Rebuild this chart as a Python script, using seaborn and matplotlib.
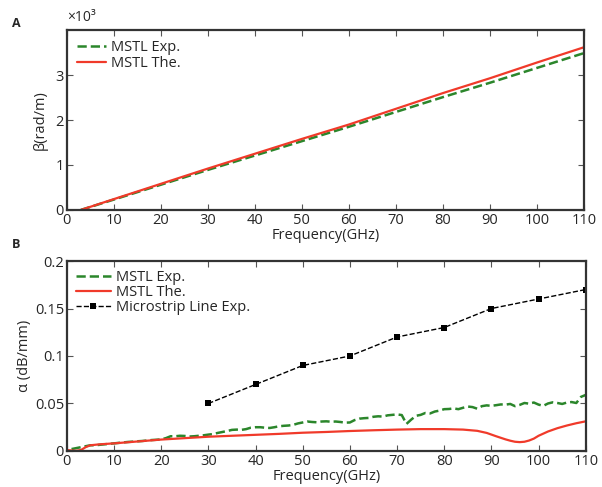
import matplotlib
matplotlib.use("Agg")
import matplotlib.pyplot as plt
import seaborn as sns
import numpy as np

# Panel A : constante de phase (x10^3 rad/m)
freq_beta = [3, 10, 20, 30, 40, 50, 60, 70, 80, 90, 100, 110]
beta_the = [0.0, 0.24, 0.58, 0.92, 1.25, 1.58, 1.90, 2.25, 2.60, 2.93, 3.28, 3.62]
beta_exp = [0.0, 0.23, 0.56, 0.89, 1.21, 1.53, 1.85, 2.18, 2.51, 2.83, 3.16, 3.49]

# Panel B : attenuation (dB/mm)
freq_exp = list(range(1, 111))
alpha_exp = [
    0.0020, 0.0030, 0.0040, 0.0050, 0.0060, 0.0060, 0.0065, 0.0070, 0.0075, 0.0080,
    0.0085, 0.0090, 0.0095, 0.0098, 0.0102, 0.0105, 0.0110, 0.0115, 0.0118, 0.0122,
    0.0135, 0.0155, 0.0155, 0.0160, 0.0158, 0.0152, 0.0155, 0.0160, 0.0165, 0.0172,
    0.0178, 0.0190, 0.0200, 0.0210, 0.0222, 0.0225, 0.0222, 0.0230, 0.0245, 0.0250,
    0.0250, 0.0245, 0.0242, 0.0250, 0.0260, 0.0265, 0.0268, 0.0275, 0.0290, 0.0300,
    0.0310, 0.0305, 0.0302, 0.0310, 0.0312, 0.0308, 0.0310, 0.0305, 0.0298, 0.0300,
    0.0325, 0.0340, 0.0345, 0.0348, 0.0360, 0.0365, 0.0362, 0.0375, 0.0380, 0.0385,
    0.0378, 0.0285, 0.0330, 0.0370, 0.0380, 0.0400, 0.0395, 0.0415, 0.0425, 0.0440,
    0.0442, 0.0448, 0.0440, 0.0455, 0.0468, 0.0462, 0.0445, 0.0472, 0.0480, 0.0475,
    0.0482, 0.0490, 0.0488, 0.0495, 0.0472, 0.0485, 0.0505, 0.0498, 0.0510, 0.0488,
    0.0475, 0.0500, 0.0512, 0.0505, 0.0495, 0.0510, 0.0515, 0.0505, 0.0570, 0.0590,
]
freq_the = [0, 1, 2, 3, 4, 5, 7, 10, 15, 20, 25, 30, 35, 40, 45, 50, 55, 60, 65, 70,
            75, 80, 84, 87, 89, 91, 93, 94, 95, 96, 97, 98, 99, 100, 102, 104, 106, 108, 110]
alpha_the = [0.0010, 0.0005, 0.0002, 0.0010, 0.0040, 0.0060, 0.0070, 0.0080, 0.0100, 0.0120,
             0.0135, 0.0150, 0.0160, 0.0170, 0.0180, 0.0192, 0.0200, 0.0210, 0.0218, 0.0225,
             0.0230, 0.0230, 0.0225, 0.0212, 0.0190, 0.0155, 0.0122, 0.0108, 0.0097, 0.0093,
             0.0097, 0.0110, 0.0130, 0.0160, 0.0205, 0.0240, 0.0268, 0.0292, 0.0312]
freq_ms = [30, 40, 50, 60, 70, 80, 90, 100, 110]
alpha_ms = [0.05, 0.07, 0.09, 0.10, 0.12, 0.13, 0.15, 0.16, 0.17]

x_ticks = list(range(0, 111, 10))

sns.set_theme(style="white")
plt.rcParams['font.family'] = ['Open Sans', 'DejaVu Sans']
plt.rcParams['font.size'] = 10

VERT = "#2b862b"
ROUGE = "#f03a2a"

fig = plt.figure(figsize=(6.02, 4.87), dpi=100)
ax_a = fig.add_axes([0.111, 0.569, 0.859, 0.369])
ax_b = fig.add_axes([0.111, 0.074, 0.862, 0.390])


def style_axes(ax):
    for sp in ax.spines.values():
        sp.set_color("#333333")
        sp.set_linewidth(1.6)
    ax.tick_params(direction="in", length=4, width=0.8, color="#555555",
                   top=True, right=True, left=True, bottom=True,
                   labelsize=10.5, pad=2)
    ax.set_xlim(0, 110)
    ax.set_xticks(x_ticks)
    ax.set_xlabel("Frequency(GHz)", fontsize=10.5, labelpad=0.5)


# --- A ---
sns.lineplot(x=freq_beta, y=beta_exp, ax=ax_a, color=VERT, linestyle="--",
             linewidth=1.8, label="MSTL Exp.")
sns.lineplot(x=freq_beta, y=beta_the, ax=ax_a, color=ROUGE, linewidth=1.6,
             label="MSTL The.")
style_axes(ax_a)
ax_a.set_ylim(0, 4)
ax_a.set_yticks([0, 1, 2, 3])
ax_a.set_ylabel("β(rad/m)", fontsize=10.5, labelpad=6)
ax_a.text(0.0, 1.03, "×10³", transform=ax_a.transAxes, fontsize=10, va="bottom")
ax_a.legend(loc="upper left", frameon=False, fontsize=10.5, handlelength=2.0,
            handletextpad=0.3, labelspacing=0.05, borderaxespad=0.3)

# --- B ---
sns.lineplot(x=freq_exp, y=alpha_exp, ax=ax_b, color=VERT, linestyle="--",
             linewidth=1.8, label="MSTL Exp.")
sns.lineplot(x=freq_the, y=alpha_the, ax=ax_b, color=ROUGE, linewidth=1.6,
             label="MSTL The.")
sns.lineplot(x=freq_ms, y=alpha_ms, ax=ax_b, color="black", linestyle="--",
             linewidth=1.0, marker="s", markersize=4, markeredgewidth=0,
             label="Microstrip Line Exp.")
style_axes(ax_b)
ax_b.set_ylim(0, 0.2)
ax_b.set_yticks([0, 0.05, 0.1, 0.15, 0.2])
ax_b.set_yticklabels(["0", "0.05", "0.1", "0.15", "0.2"])
ax_b.set_ylabel("α (dB/mm)", fontsize=10.5, labelpad=2)
ax_b.legend(loc="upper left", frameon=False, fontsize=10.5, handlelength=2.4,
            handletextpad=0.4, labelspacing=0.0, borderaxespad=0.2)

fig.text(0.02, 0.945, "A", fontsize=9, fontweight="bold")
fig.text(0.02, 0.49, "B", fontsize=9, fontweight="bold")

fig.savefig("out.png", dpi=100)
